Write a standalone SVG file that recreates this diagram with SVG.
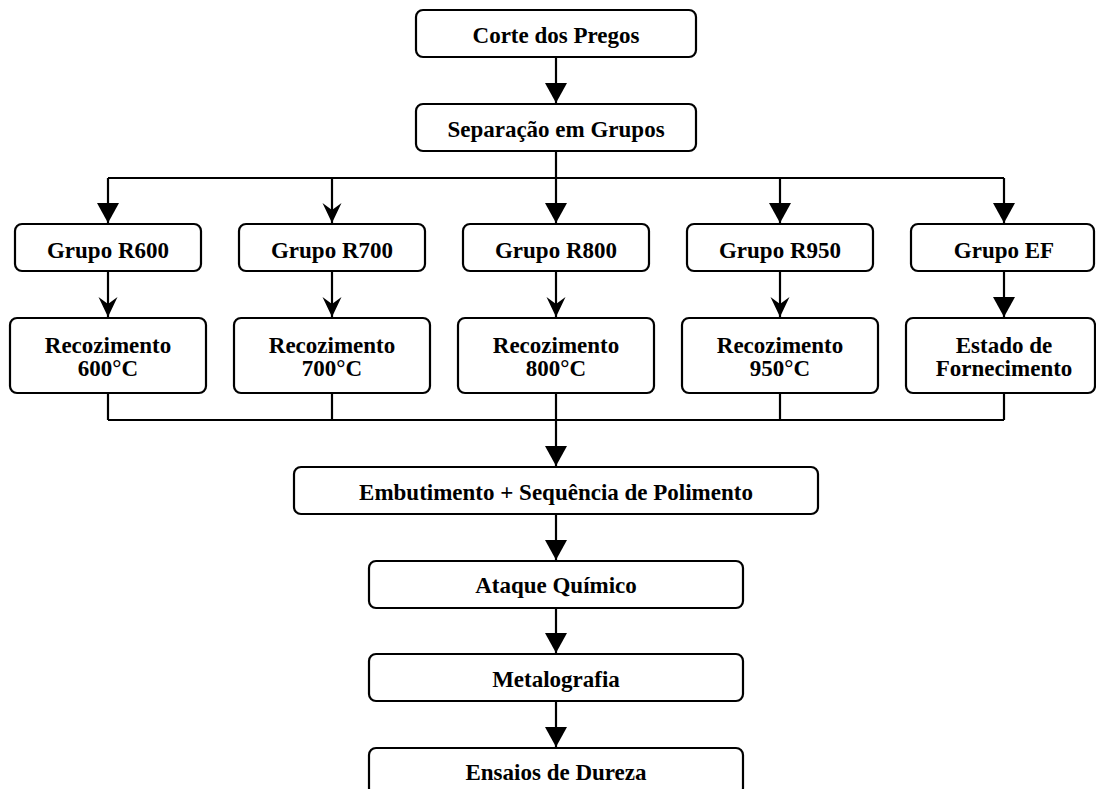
<svg xmlns="http://www.w3.org/2000/svg" width="1096" height="789" viewBox="0 0 1096 789">
<defs>
<style>
.box{fill:#fff;stroke:#000;stroke-width:2.2}
.t{font-family:"Liberation Serif","Times New Roman",serif;font-weight:bold;font-size:23px;fill:#000;text-anchor:middle}
.c{fill:none;stroke:#000;stroke-width:2.2}
.tri{marker-end:url(#tri)}
.barb{marker-end:url(#barb)}
</style>
<marker id="tri" markerUnits="userSpaceOnUse" viewBox="0 -11 20 22" refX="20" refY="0" markerWidth="20" markerHeight="22" orient="auto">
<path d="M0,-11 L20,0 L0,11 Z" fill="#000"/>
</marker>
<marker id="barb" markerUnits="userSpaceOnUse" viewBox="0 -10 20 20" refX="20" refY="0" markerWidth="20" markerHeight="20" orient="auto">
<path d="M0,-9.5 L20,0 L0,9.5 L7,0 Z" fill="#000"/>
</marker>
</defs>
<rect width="1096" height="789" fill="#fff"/>
<g id="connectors">
<path class="c tri" d="M556,57 V103"/>
<path class="c" d="M556,151 V178 M108,178 H1004"/>
<path class="c tri" d="M108,178 V223"/>
<path class="c barb" d="M332,178 V223"/>
<path class="c tri" d="M556,178 V223"/>
<path class="c tri" d="M780,178 V223"/>
<path class="c tri" d="M1004,178 V223"/>
<path class="c barb" d="M108,271 V317"/>
<path class="c barb" d="M332,271 V317"/>
<path class="c barb" d="M556,271 V317"/>
<path class="c barb" d="M780,271 V317"/>
<path class="c tri" d="M1004,271 V317"/>
<path class="c" d="M108,393 V420 M332,393 V420 M780,393 V420 M1004,393 V420 M108,420 H1004"/>
<path class="c tri" d="M556,393 V466"/>
<path class="c tri" d="M556,514 V560"/>
<path class="c tri" d="M556,608 V653"/>
<path class="c tri" d="M556,701 V747"/>
</g>
<g id="corte"><rect class="box" x="416" y="10" width="280" height="47" rx="7"/><text class="t" x="556" y="43">Corte dos Pregos</text></g>
<g id="separacao"><rect class="box" x="416" y="104" width="280" height="47" rx="7"/><text class="t" x="556" y="137">Separação em Grupos</text></g>
<g id="g600"><rect class="box" x="15" y="224" width="186" height="47" rx="7"/><text class="t" x="108" y="258">Grupo R600</text></g>
<g id="g700"><rect class="box" x="239" y="224" width="186" height="47" rx="7"/><text class="t" x="332" y="258">Grupo R700</text></g>
<g id="g800"><rect class="box" x="463" y="224" width="186" height="47" rx="7"/><text class="t" x="556" y="258">Grupo R800</text></g>
<g id="g950"><rect class="box" x="687" y="224" width="186" height="47" rx="7"/><text class="t" x="780" y="258">Grupo R950</text></g>
<g id="gef"><rect class="box" x="911" y="224" width="183" height="47" rx="7"/><text class="t" x="1004" y="258">Grupo EF</text></g>
<g id="r600"><rect class="box" x="10" y="318" width="196" height="75" rx="7"/><text class="t" x="108" y="353">Recozimento</text><text class="t" x="108" y="376">600°C</text></g>
<g id="r700"><rect class="box" x="234" y="318" width="196" height="75" rx="7"/><text class="t" x="332" y="353">Recozimento</text><text class="t" x="332" y="376">700°C</text></g>
<g id="r800"><rect class="box" x="458" y="318" width="196" height="75" rx="7"/><text class="t" x="556" y="353">Recozimento</text><text class="t" x="556" y="376">800°C</text></g>
<g id="r950"><rect class="box" x="682" y="318" width="196" height="75" rx="7"/><text class="t" x="780" y="353">Recozimento</text><text class="t" x="780" y="376">950°C</text></g>
<g id="ef"><rect class="box" x="906" y="318" width="189" height="75" rx="7"/><text class="t" x="1004" y="353">Estado de</text><text class="t" x="1004" y="376">Fornecimento</text></g>
<g id="embutimento"><rect class="box" x="294" y="467" width="524" height="47" rx="7"/><text class="t" x="556" y="500">Embutimento + Sequência de Polimento</text></g>
<g id="ataque"><rect class="box" x="369" y="561" width="374" height="47" rx="7"/><text class="t" x="556" y="593">Ataque Químico</text></g>
<g id="metalografia"><rect class="box" x="369" y="654" width="374" height="47" rx="7"/><text class="t" x="556" y="687">Metalografia</text></g>
<g id="ensaios"><rect class="box" x="369" y="748" width="374" height="47" rx="7"/><text class="t" x="556" y="780">Ensaios de Dureza</text></g>
</svg>
